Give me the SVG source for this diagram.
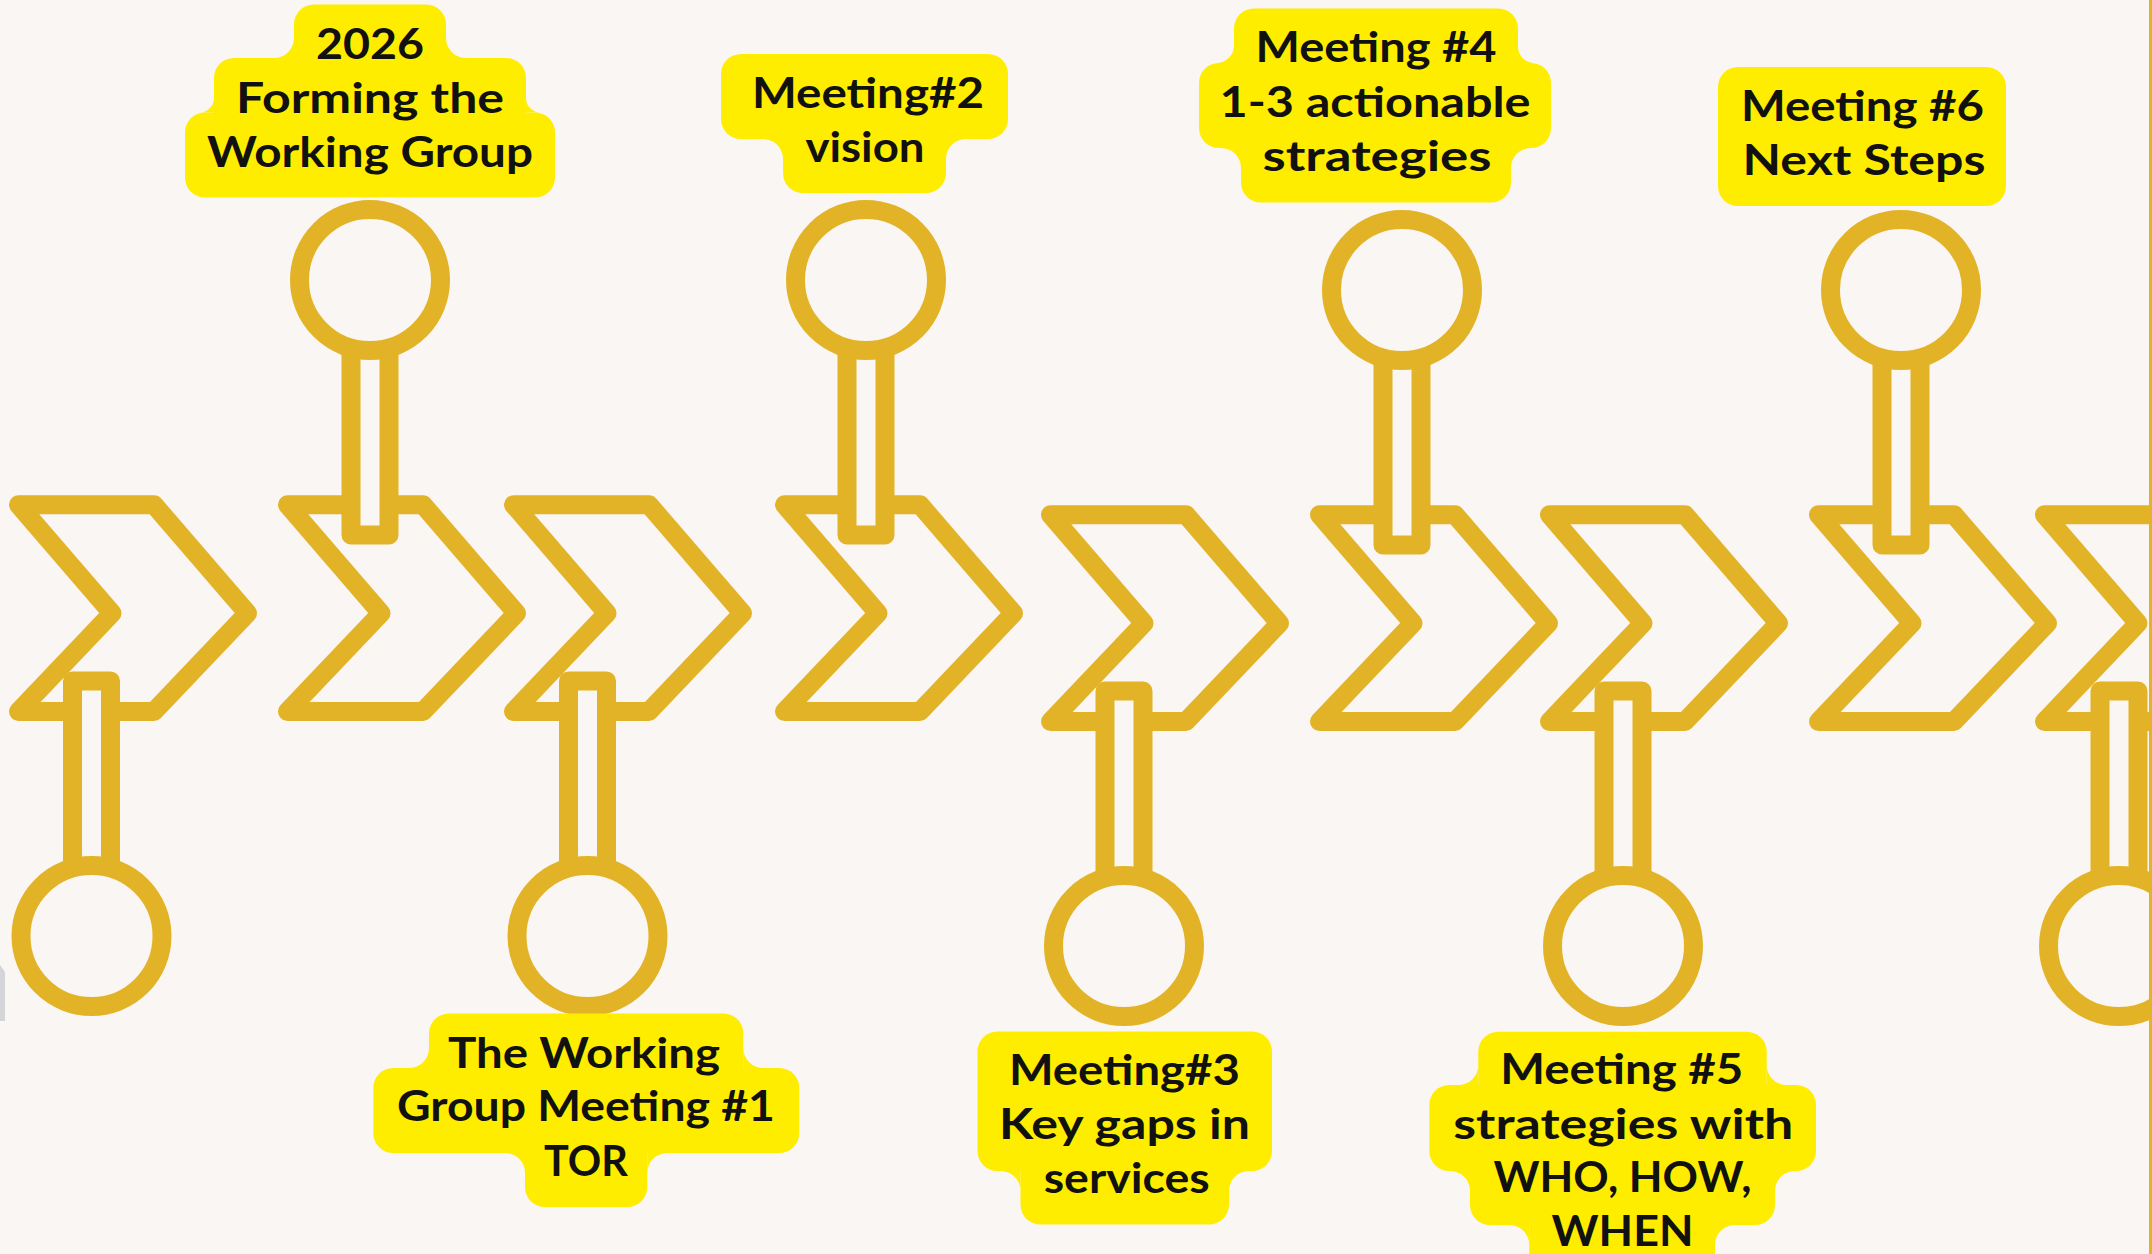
<svg xmlns="http://www.w3.org/2000/svg" xmlns:xlink="http://www.w3.org/1999/xlink" width="2152" height="1254" viewBox="0 0 2152 1254">
<style>
.chev{fill:#F9F6F3;stroke:#E3B327;stroke-width:19;stroke-linejoin:round}
.pin{fill:#F9F6F3;stroke:#E3B327;stroke-width:19;stroke-linejoin:round}
.lbl{fill:#FFED00}
.t{font-family:"Lato","Liberation Sans",sans-serif;font-weight:700;font-size:42px;fill:#111;text-anchor:middle}
</style>
<defs>
<path id="chev" d="M9.5,0 H145 L238.5,108.6 L145,206.8 H9.5 L103,108.6 Z"/>
<g id="pinUp"><rect x="-19" y="0" width="38" height="255"/><circle cx="0" cy="0" r="70.5"/></g>
<g id="pinDown"><rect x="-19" y="-255" width="38" height="255"/><circle cx="0" cy="0" r="70.5"/></g>
</defs>
<rect x="0" y="0" width="2152" height="1254" fill="#F9F6F3"/>
<polygon points="0,965 5,972 5,1021 0,1021" fill="#D3D5D8"/>

<g id="chevrons">
<g id="chevron1"><use href="#chev" class="chev" x="9" y="504.7"/></g>
<g id="chevron2"><use href="#chev" class="chev" x="278" y="504.7"/></g>
<g id="chevron3"><use href="#chev" class="chev" x="504" y="504.7"/></g>
<g id="chevron4"><use href="#chev" class="chev" x="775" y="504.7"/></g>
<g id="chevron5"><use href="#chev" class="chev" x="1041" y="514.7"/></g>
<g id="chevron6"><use href="#chev" class="chev" x="1310" y="514.7"/></g>
<g id="chevron7"><use href="#chev" class="chev" x="1540" y="514.7"/></g>
<g id="chevron8"><use href="#chev" class="chev" x="1809" y="514.7"/></g>
<g id="chevron9"><use href="#chev" class="chev" x="2035" y="514.7"/></g>
</g>

<g id="connectors"></g>

<g id="pins">
<g id="pinA"><use href="#pinUp" class="pin" x="370" y="280"/></g>
<g id="pinB"><use href="#pinUp" class="pin" x="866" y="280"/></g>
<g id="pinC"><use href="#pinUp" class="pin" x="1402" y="290"/></g>
<g id="pinD"><use href="#pinUp" class="pin" x="1901" y="290"/></g>
<g id="pinE"><use href="#pinDown" class="pin" x="91.5" y="936"/></g>
<g id="pinF"><use href="#pinDown" class="pin" x="587.5" y="936"/></g>
<g id="pinG"><use href="#pinDown" class="pin" x="1124" y="946"/></g>
<g id="pinH"><use href="#pinDown" class="pin" x="1623" y="946"/></g>
<g id="pinI"><use href="#pinDown" class="pin" x="2119" y="946"/></g>
</g>

<g id="label1">
<g class="lbl">
<rect x="294" y="4.5" width="152" height="85" rx="20"/>
<rect x="214" y="58" width="312" height="85" rx="20"/>
<rect x="185" y="112.5" width="370" height="85" rx="20"/>
<path d="M294,38 A20,20 0 0 1 274,58 L294,58 Z M446,38 A20,20 0 0 0 466,58 L446,58 Z"/>
<path d="M214,98 A14.5,14.5 0 0 1 199.5,112.5 L214,112.5 Z M526,98 A14.5,14.5 0 0 0 540.5,112.5 L526,112.5 Z"/>
</g>
<text class="t" x="370" y="58.5" textLength="108" lengthAdjust="spacingAndGlyphs">2026</text>
<text class="t" x="370" y="112.5" textLength="268" lengthAdjust="spacingAndGlyphs">Forming the</text>
<text class="t" x="370" y="167" textLength="326" lengthAdjust="spacingAndGlyphs">Working Group</text>
</g>

<g id="label2">
<g class="lbl">
<rect x="721" y="54" width="287" height="85" rx="20"/>
<rect x="783" y="108" width="163" height="85" rx="20"/>
<path d="M783,159 A20,20 0 0 0 763,139 L783,139 Z M946,159 A20,20 0 0 1 966,139 L946,139 Z"/>
</g>
<text class="t" x="868" y="107.5" textLength="232" lengthAdjust="spacingAndGlyphs">Meeting#2</text>
<text class="t" x="865" y="162" textLength="119" lengthAdjust="spacingAndGlyphs">vision</text>
</g>

<g id="label4">
<g class="lbl">
<rect x="1234" y="8.5" width="284" height="85" rx="20"/>
<rect x="1199" y="63" width="352" height="85" rx="20"/>
<rect x="1241" y="117.5" width="270" height="85" rx="20"/>
<path d="M1234,45.5 A17.5,17.5 0 0 1 1216.5,63 L1234,63 Z M1518,46.5 A16.5,16.5 0 0 0 1534.5,63 L1518,63 Z"/>
<path d="M1241,168 A20,20 0 0 0 1221,148 L1241,148 Z M1511,168 A20,20 0 0 1 1531,148 L1511,148 Z"/>
</g>
<text class="t" x="1376" y="62" textLength="241" lengthAdjust="spacingAndGlyphs">Meeting #4</text>
<text class="t" x="1375" y="116.5" textLength="311" lengthAdjust="spacingAndGlyphs">1-3 actionable</text>
<text class="t" x="1377" y="171" textLength="229" lengthAdjust="spacingAndGlyphs">strategies</text>
</g>

<g id="label6">
<g class="lbl">
<rect x="1718" y="67" width="288" height="139" rx="20"/>
</g>
<text class="t" x="1862.5" y="121" textLength="243" lengthAdjust="spacingAndGlyphs">Meeting #6</text>
<text class="t" x="1864" y="175" textLength="243" lengthAdjust="spacingAndGlyphs">Next Steps</text>
</g>

<g id="label3">
<g class="lbl">
<rect x="429" y="1013.5" width="314.3" height="85" rx="20"/>
<rect x="373.3" y="1068" width="426" height="85" rx="20"/>
<rect x="525" y="1122" width="122.3" height="85" rx="20"/>
<path d="M429,1048 A20,20 0 0 1 409,1068 L429,1068 Z M743.3,1048 A20,20 0 0 0 763.3,1068 L743.3,1068 Z"/>
<path d="M525,1173 A20,20 0 0 0 505,1153 L525,1153 Z M647.3,1173 A20,20 0 0 1 667.3,1153 L647.3,1153 Z"/>
</g>
<text class="t" x="584" y="1067.5" textLength="272" lengthAdjust="spacingAndGlyphs">The Working</text>
<text class="t" x="586" y="1121" textLength="378" lengthAdjust="spacingAndGlyphs">Group Meeting #1</text>
<text class="t" x="586" y="1175.5" textLength="84" lengthAdjust="spacingAndGlyphs">TOR</text>
</g>

<g id="label5">
<g class="lbl">
<rect x="977.5" y="1031.5" width="294.5" height="139.5" rx="20"/>
<rect x="1020.5" y="1140" width="208.5" height="84.5" rx="20"/>
<path d="M1020.5,1191 A20,20 0 0 0 1000.5,1171 L1020.5,1171 Z M1229,1191 A20,20 0 0 1 1249,1171 L1229,1171 Z"/>
</g>
<text class="t" x="1124.4" y="1084.5" textLength="231" lengthAdjust="spacingAndGlyphs">Meeting#3</text>
<text class="t" x="1124.4" y="1138.5" textLength="251" lengthAdjust="spacingAndGlyphs">Key gaps in</text>
<text class="t" x="1126.7" y="1193" textLength="166" lengthAdjust="spacingAndGlyphs">services</text>
</g>

<g id="label7">
<g class="lbl">
<rect x="1478.3" y="1031.7" width="288.4" height="85" rx="20"/>
<rect x="1429.3" y="1085" width="386.7" height="86" rx="20"/>
<rect x="1470" y="1139" width="305" height="86" rx="20"/>
<rect x="1529.3" y="1193" width="185.7" height="85" rx="20"/>
<path d="M1478.3,1065 A20,20 0 0 1 1458.3,1085 L1478.3,1085 Z M1766.7,1065 A20,20 0 0 0 1786.7,1085 L1766.7,1085 Z"/>
<path d="M1470,1191 A20,20 0 0 0 1450,1171 L1470,1171 Z M1775,1191 A20,20 0 0 1 1795,1171 L1775,1171 Z"/>
<path d="M1529.3,1245 A20,20 0 0 0 1509.3,1225 L1529.3,1225 Z M1715,1245 A20,20 0 0 1 1735,1225 L1715,1225 Z"/>
</g>
<text class="t" x="1621.7" y="1084" textLength="243" lengthAdjust="spacingAndGlyphs">Meeting #5</text>
<text class="t" x="1623.3" y="1138.5" textLength="340" lengthAdjust="spacingAndGlyphs">strategies with</text>
<text class="t" x="1622.5" y="1192" textLength="258" lengthAdjust="spacingAndGlyphs">WHO, HOW,</text>
<text class="t" x="1622.5" y="1246" textLength="142" lengthAdjust="spacingAndGlyphs">WHEN</text>
</g>

<rect x="2149" y="0" width="3" height="1254" fill="#E3B327"/>
</svg>
